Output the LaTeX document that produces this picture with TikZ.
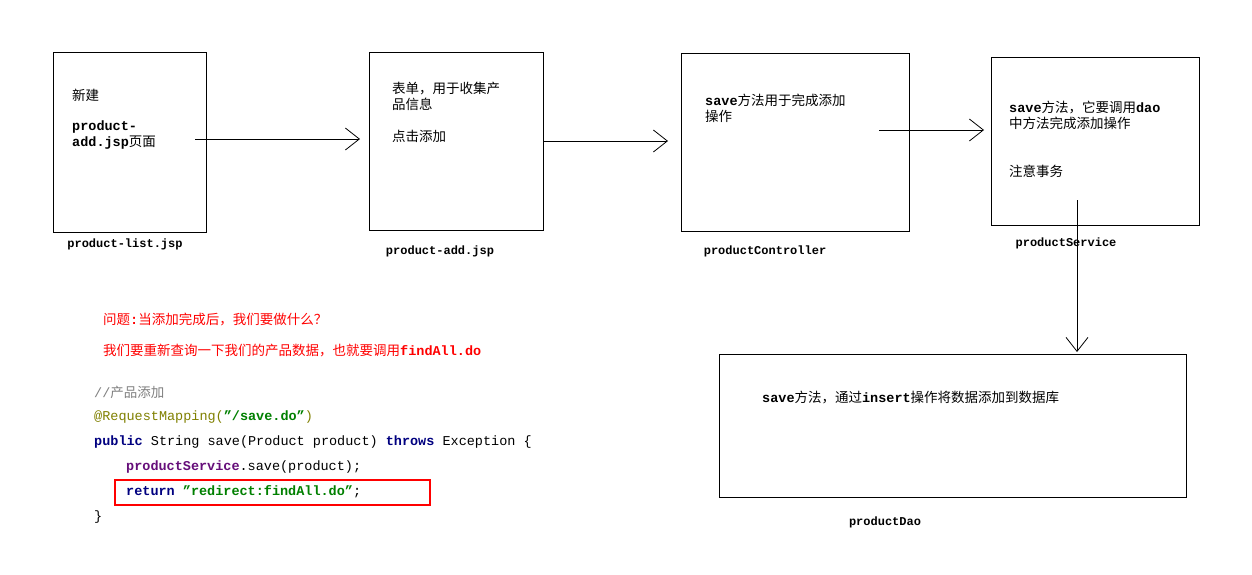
\documentclass[tikz,border=0pt]{standalone}
\usepackage{fontspec}
\setmainfont{Liberation Mono}
\newfontfamily\cjk{Noto Sans CJK SC}
\newcommand{\mb}[1]{{\bfseries #1}}
\newcommand{\cj}[1]{{\cjk #1}}
\usetikzlibrary{arrows.meta}
\definecolor{kw}{RGB}{0,0,128}
\definecolor{str}{RGB}{0,128,0}
\definecolor{ann}{RGB}{128,128,0}
\definecolor{pur}{RGB}{102,14,122}
\begin{document}
\begin{tikzpicture}[x=1pt,y=-1pt,
  box/.style={draw,line width=0.8pt},
  txt/.style={anchor=west,font=\fontsize{13.5}{16}\selectfont,align=left,inner sep=0},
  lab/.style={anchor=center,font=\fontsize{12}{14}\selectfont\bfseries,inner sep=0},
  arr/.style={-{Straight Barb[length=14pt,width=22pt]},line width=0.8pt},
  code/.style={anchor=west,font=\fontsize{13.5}{16}\selectfont,inner sep=0}]
\useasboundingbox[fill=white] (0,0) rectangle (1252,574);
\draw[box] (53,52) rectangle (206,232);
\node[txt] (t1a) at (72,95) {\cj{新建}};
\node[txt] (t1b) at (72,135) {\mb{product-}\\\mb{add.jsp}\cj{页面}};
\node[lab] (l1) at (125,244) {product-list.jsp};
\draw[box] (369,52) rectangle (543,230);
\node[txt] (t2a) at (392,96) {\cj{表单，用于收集产}\\\cj{品信息}};
\node[txt] (t2b) at (392,136) {\cj{点击添加}};
\node[lab] (l2) at (440,251) {product-add.jsp};
\draw[box] (681,53) rectangle (909,231);
\node[txt] (t3) at (705,108) {\mb{save}\cj{方法用于完成添加}\\\cj{操作}};
\node[lab] (l3) at (765,251) {productController};
\draw[box] (991,57) rectangle (1199,225);
\node[txt] (t4a) at (1009,115) {\mb{save}\cj{方法，它要调用}\mb{dao}\\\cj{中方法完成添加操作}};
\node[txt] (t4b) at (1009,171) {\cj{注意事务}};
\node[lab] (l4) at (1066,243) {productService};
\draw[box] (719,354) rectangle (1186,497);
\node[txt] (t5) at (762,398) {\mb{save}\cj{方法，通过}\mb{insert}\cj{操作将数据添加到数据库}};
\node[lab] (l5) at (885,522) {productDao};
\coordinate (a1s) at (195,139); \coordinate (a1e) at (360,139);
\coordinate (a2s) at (543,141); \coordinate (a2e) at (668,141);
\coordinate (a3s) at (879,130); \coordinate (a3e) at (984,130);
\coordinate (a4s) at (1077,200); \coordinate (a4e) at (1077,352);
\draw[arr] (a1s) -- (a1e);
\draw[arr] (a2s) -- (a2e);
\draw[arr] (a3s) -- (a3e);
\draw[arr] (a4s) -- (a4e);
\node[txt,text=red] (q1) at (103,319) {\cj{问题}\mb{:}\cj{当添加完成后，我们要做什么？}};
\node[txt,text=red] (q2) at (103,351) {\cj{我们要重新查询一下我们的产品数据，也就要调用}\mb{findAll.do}};
\node[code,text=gray] (c1) at (94,392) {//\cj{产品添加}};
\node[code] (c2) at (94,417) {\textcolor{ann}{@RequestMapping(}\textcolor{str}{\bfseries"/save.do"}\textcolor{ann}{)}};
\node[code] (c3) at (94,442) {\textcolor{kw}{\bfseries public} String save(Product product) \textcolor{kw}{\bfseries throws} Exception \{};
\node[code] (c4) at (126,467) {\textcolor{pur}{\bfseries productService}.save(product);};
\node[code] (c5) at (126,492) {\textcolor{kw}{\bfseries return} \textcolor{str}{\bfseries"redirect:findAll.do"};};
\node[code] (c6) at (94,517) {\}};
\draw[red,line width=1.8pt] (115,480) rectangle (430,505);
\end{tikzpicture}
\end{document}
